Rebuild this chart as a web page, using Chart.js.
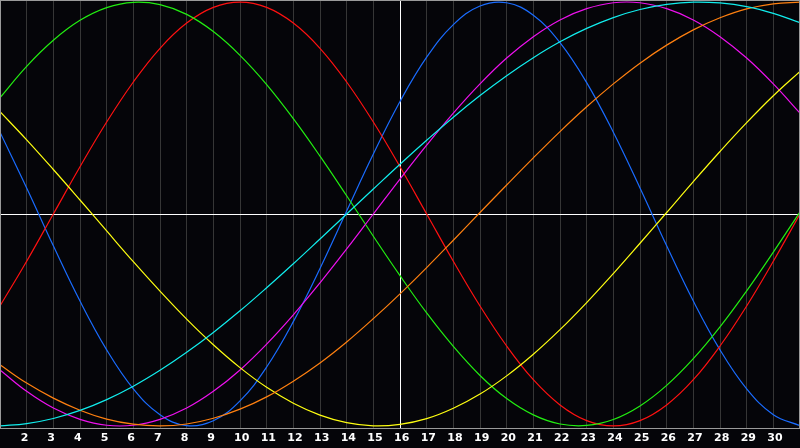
<!DOCTYPE html>
<html>
<head>
<meta charset="utf-8">
<style>
html,body{margin:0;padding:0;background:#050509;overflow:hidden;}
#wrap{width:800px;height:448px;position:relative;}
</style>
<script src="https://cdn.jsdelivr.net/npm/chart.js@4.4.1/dist/chart.umd.min.js"></script>
</head>
<body>
<div id="wrap"><canvas id="c" width="800" height="448"></canvas></div>
<script>
// Days shown across the chart (1..31); labels printed only for 2..30
const days = [1,2,3,4,5,6,7,8,9,10,11,12,13,14,15,16,17,18,19,20,21,22,23,24,25,26,27,28,29,30,31];
const tickLabels = ['','2','3','4','5','6','7','8','9','10','11','12','13','14','15','16','17','18','19','20','21','22','23','24','25','26','27','28','29','30',''];
const todayIndex = 15; // day 16

// Cycle values (range -1 .. 1)
const blue23 = [0.386,0.123,-0.150,-0.411,-0.641,-0.825,-0.947,-0.999,-0.976,-0.882,-0.722,-0.508,-0.257,0.014,0.283,0.531,0.740,0.894,0.982,0.997,0.938,0.809,0.620,0.386,0.123,-0.150,-0.411,-0.641,-0.825,-0.947,-0.999];
const red28 = [-0.434,-0.223,0.000,0.223,0.434,0.623,0.782,0.901,0.975,1.000,0.975,0.901,0.782,0.623,0.434,0.223,0.000,-0.223,-0.434,-0.623,-0.782,-0.901,-0.975,-1.000,-0.975,-0.901,-0.782,-0.623,-0.434,-0.223,0.000];
const green33 = [0.549,0.697,0.820,0.914,0.974,0.999,0.988,0.942,0.861,0.749,0.611,0.450,0.273,0.086,-0.105,-0.291,-0.467,-0.625,-0.762,-0.871,-0.948,-0.991,-0.998,-0.970,-0.906,-0.809,-0.683,-0.533,-0.363,-0.180,0.010];
const magenta38 = [-0.736,-0.837,-0.916,-0.969,-0.997,-0.997,-0.969,-0.916,-0.837,-0.736,-0.614,-0.476,-0.325,-0.165,0.000,0.165,0.325,0.476,0.614,0.736,0.837,0.916,0.969,0.997,0.997,0.969,0.916,0.837,0.736,0.614,0.476];
const yellow43 = [0.483,0.350,0.210,0.066,-0.080,-0.225,-0.364,-0.496,-0.617,-0.725,-0.818,-0.893,-0.949,-0.985,-1.000,-0.993,-0.966,-0.917,-0.850,-0.764,-0.662,-0.546,-0.418,-0.281,-0.138,0.007,0.153,0.295,0.431,0.558,0.673];
const orange48 = [-0.712,-0.798,-0.869,-0.926,-0.968,-0.992,-1.000,-0.991,-0.964,-0.921,-0.863,-0.789,-0.703,-0.604,-0.494,-0.377,-0.253,-0.124,0.007,0.137,0.265,0.389,0.506,0.614,0.712,0.797,0.869,0.926,0.968,0.992,1.000];
const cyan53 = [-1.000,-0.989,-0.965,-0.927,-0.876,-0.813,-0.738,-0.653,-0.559,-0.457,-0.348,-0.235,-0.118,0.000,0.118,0.235,0.348,0.457,0.559,0.653,0.738,0.813,0.876,0.927,0.965,0.989,1.000,0.996,0.979,0.947,0.903];

const seriesList = [
  {data: cyan53,    color: '#11eeee'},
  {data: orange48,  color: '#ff8010'},
  {data: yellow43,  color: '#ffff11'},
  {data: magenta38, color: '#ee11ee'},
  {data: green33,   color: '#22ee11'},
  {data: red28,     color: '#ff1111'},
  {data: blue23,    color: '#1a6cff'}
];

const framePlugin = {
  id: 'frame',
  beforeDatasetsDraw(chart) {
    const {ctx, chartArea: a, scales: {y}} = chart;
    const y0 = Math.round(y.getPixelForValue(0)) + 0.5;
    ctx.save();
    ctx.strokeStyle = '#ffffff';
    ctx.lineWidth = 1;
    ctx.beginPath();
    ctx.moveTo(a.left, y0);
    ctx.lineTo(a.right, y0);
    ctx.stroke();
    ctx.restore();
  },
  afterDraw(chart) {
    const {ctx, chartArea: a} = chart;
    ctx.save();
    ctx.strokeStyle = '#9a9a9a';
    ctx.lineWidth = 1;
    ctx.strokeRect(a.left + 0.5, a.top + 0.5, a.right - a.left - 1, a.bottom - a.top);
    ctx.restore();
  }
};

const bgPlugin = {
  id: 'bg',
  beforeDraw(chart) {
    const {ctx, width, height} = chart;
    ctx.save();
    ctx.fillStyle = '#050509';
    ctx.fillRect(0, 0, width, height);
    ctx.restore();
  }
};

new Chart(document.getElementById('c'), {
  type: 'line',
  data: {
    labels: days,
    datasets: seriesList.map(s => ({
      data: s.data,
      borderColor: s.color,
      backgroundColor: s.color,
      borderWidth: 1.2,
      pointRadius: 0,
      tension: 0.4,
      fill: false
    }))
  },
  options: {
    responsive: false,
    devicePixelRatio: 1,
    animation: false,
    layout: {padding: 0},
    plugins: {legend: {display: false}, tooltip: {enabled: false}},
    scales: {
      x: {
        type: 'category',
        offset: false,
        border: {display: false},
        afterFit: s => { s.height = 20; s.paddingLeft = 0; s.paddingRight = 0; },
        grid: {
          offset: false,
          drawTicks: false,
          lineWidth: 1,
          color: ctx => (ctx.index === todayIndex ? '#ffffff' : '#363636')
        },
        ticks: {
          autoSkip: false,
          maxRotation: 0,
          minRotation: 0,
          align: 'start',
          labelOffset: -6,
          padding: 4,
          color: '#ffffff',
          font: {family: 'DejaVu Sans', weight: 'bold', size: 11},
          callback: (v, i) => tickLabels[i]
        }
      },
      y: {display: false, min: -1.01, max: 1.01}
    }
  },
  plugins: [bgPlugin, framePlugin]
});
</script>
</body>
</html>
